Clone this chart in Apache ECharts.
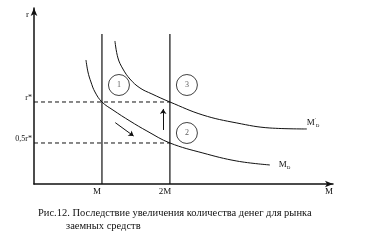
<!DOCTYPE html>
<html><head><meta charset="utf-8">
<script src="https://cdn.jsdelivr.net/npm/echarts@6/dist/echarts.min.js"></script>
<style>html,body{margin:0;padding:0;background:#fff}#c{width:367px;height:245px}</style>
</head><body><div id="c"></div>
<script>
// x in units of M, y in units of r*
const xTicks = [1, 2];
const xTickLabels = ['M', '2M'];
const yTicks = [0.5, 1];
const yTickLabels = ['0,5r*', 'r*'];

// Demand curve M_D (lower)
const mdX = [0.765, 0.794, 0.838, 0.897, 1.0, 1.162, 1.412, 1.662, 2.0, 2.485, 2.985, 3.471];
const mdY = [1.512, 1.366, 1.244, 1.122, 1.0, 0.902, 0.768, 0.646, 0.5, 0.378, 0.280, 0.232];
// Demand curve M'_D (upper)
const md2X = [1.191, 1.235, 1.309, 1.412, 1.559, 1.735, 2.0, 2.485, 2.985, 3.471, 4.015];
const md2Y = [1.744, 1.537, 1.402, 1.280, 1.171, 1.098, 1.0, 0.841, 0.744, 0.683, 0.671];

// vertical supply lines (M, 2M) and their top
const supplyX = [1, 2];
const supplyTop = 1.829;
// dashed interest-rate levels
const rateLevels = [1, 0.5];
const rateLineEnd = 2;

// numbered region markers
const regionNames = ['1', '3', '2'];
const regionX = [1.25, 2.25, 2.25];
const regionY = [1.207, 1.207, 0.622];

// arrows
const arrowFrom = [[1.196, 0.748], [1.901, 0.659]];
const arrowTo = [[1.466, 0.585], [1.901, 0.915]];

const xMax = 4.4, yMax = 2.146;
const captionLine1 = 'Рис.12. Последствие увеличения количества денег для рынка';
const captionLine2 = 'заемных средств';

const font = 'Liberation Serif';
const ink = '#111';

const zip = (xs, ys) => xs.map((x, i) => [x, ys[i]]);

const series = [];
series.push({
  type: 'line', data: zip(mdX, mdY), smooth: 0.4, symbol: 'none',
  lineStyle: { color: ink, width: 1 },
  endLabel: { show: true, formatter: '{m|M}{d|D}', offset: [1, 0],
    rich: { m: { fontFamily: font, fontSize: 9, color: ink }, d: { fontFamily: font, fontSize: 5, color: ink, padding: [6, 0, 0, 0] } } }
});
series.push({
  type: 'line', data: zip(md2X, md2Y), smooth: 0.4, symbol: 'none',
  lineStyle: { color: ink, width: 1 },
  endLabel: { show: true, formatter: '{m|M}{p|\'}{d|D}', offset: [-8, -6],
    rich: { m: { fontFamily: font, fontSize: 9, color: ink }, p: { fontFamily: font, fontSize: 5, color: ink, padding: [0, 0, 6, 0] }, d: { fontFamily: font, fontSize: 5, color: ink, padding: [6, 0, 0, 0] } } }
});
supplyX.forEach(x => series.push({
  type: 'line', data: [[x, 0], [x, supplyTop]], symbol: 'none',
  lineStyle: { color: ink, width: 1.2 }
}));
rateLevels.forEach(y => series.push({
  type: 'line', data: [[0, y], [rateLineEnd, y]], symbol: 'none',
  lineStyle: { color: ink, width: 1, type: [4, 3] }
}));
series.push({
  type: 'scatter', symbol: 'circle', symbolSize: 21,
  data: regionNames.map((n, i) => ({ name: n, value: [regionX[i], regionY[i]] })),
  itemStyle: { color: 'rgba(0,0,0,0)', borderColor: ink, borderWidth: 1 },
  label: { show: true, position: 'inside', formatter: '{b}', fontFamily: font, fontSize: 8, color: '#333' },
  z: 5
});
series.push({
  type: 'lines', coordinateSystem: 'cartesian2d',
  data: arrowFrom.map((f, i) => ({ coords: [f, arrowTo[i]] })),
  symbol: ['none', 'arrow'], symbolSize: 5,
  lineStyle: { color: ink, width: 1, opacity: 1 }
});

const chart = echarts.init(document.getElementById('c'), null, { renderer: 'canvas' });
chart.setOption({
  animation: false,
  backgroundColor: '#fff',
  title: [
    { text: captionLine1, left: 38, top: 208, padding: 0, textStyle: { fontFamily: font, fontSize: 10.5, fontWeight: 'normal', color: ink } },
    { text: captionLine2, left: 66, top: 221, padding: 0, textStyle: { fontFamily: font, fontSize: 10.5, fontWeight: 'normal', color: ink } }
  ],
  grid: { left: 34, right: 34, top: 8, bottom: 61, containLabel: false },
  xAxis: {
    type: 'value', min: 0, max: xMax, interval: 1,
    name: 'M', nameLocation: 'end', nameGap: -4,
    nameTextStyle: { fontFamily: font, fontSize: 9, color: ink, align: 'center', verticalAlign: 'top', padding: [3, 0, 0, 0] },
    axisLine: { show: true, onZero: false, symbol: ['none', 'arrow'], symbolSize: [5, 8], lineStyle: { color: ink, width: 1.5 } },
    axisTick: { show: false }, splitLine: { show: false },
    axisLabel: {
      fontFamily: font, fontSize: 9, color: ink, margin: 3, padding: [0, 10, 0, 0],
      formatter: v => { const i = xTicks.indexOf(v); return i >= 0 ? xTickLabels[i] : ''; }
    }
  },
  yAxis: {
    type: 'value', min: 0, max: yMax, interval: 0.5,
    name: 'r', nameLocation: 'end', nameGap: -7,
    nameTextStyle: { fontFamily: font, fontSize: 9, color: ink, align: 'right', verticalAlign: 'middle', padding: [0, 5, 0, 0] },
    axisLine: { show: true, onZero: false, symbol: ['none', 'arrow'], symbolSize: [5, 8], lineStyle: { color: ink, width: 1.5 } },
    axisTick: { show: false }, splitLine: { show: false },
    axisLabel: {
      fontFamily: font, fontSize: 8, color: ink, margin: 2, verticalAlign: 'bottom',
      formatter: v => { const i = yTicks.indexOf(v); return i >= 0 ? yTickLabels[i] : ''; }
    }
  },
  series
});
</script></body></html>
